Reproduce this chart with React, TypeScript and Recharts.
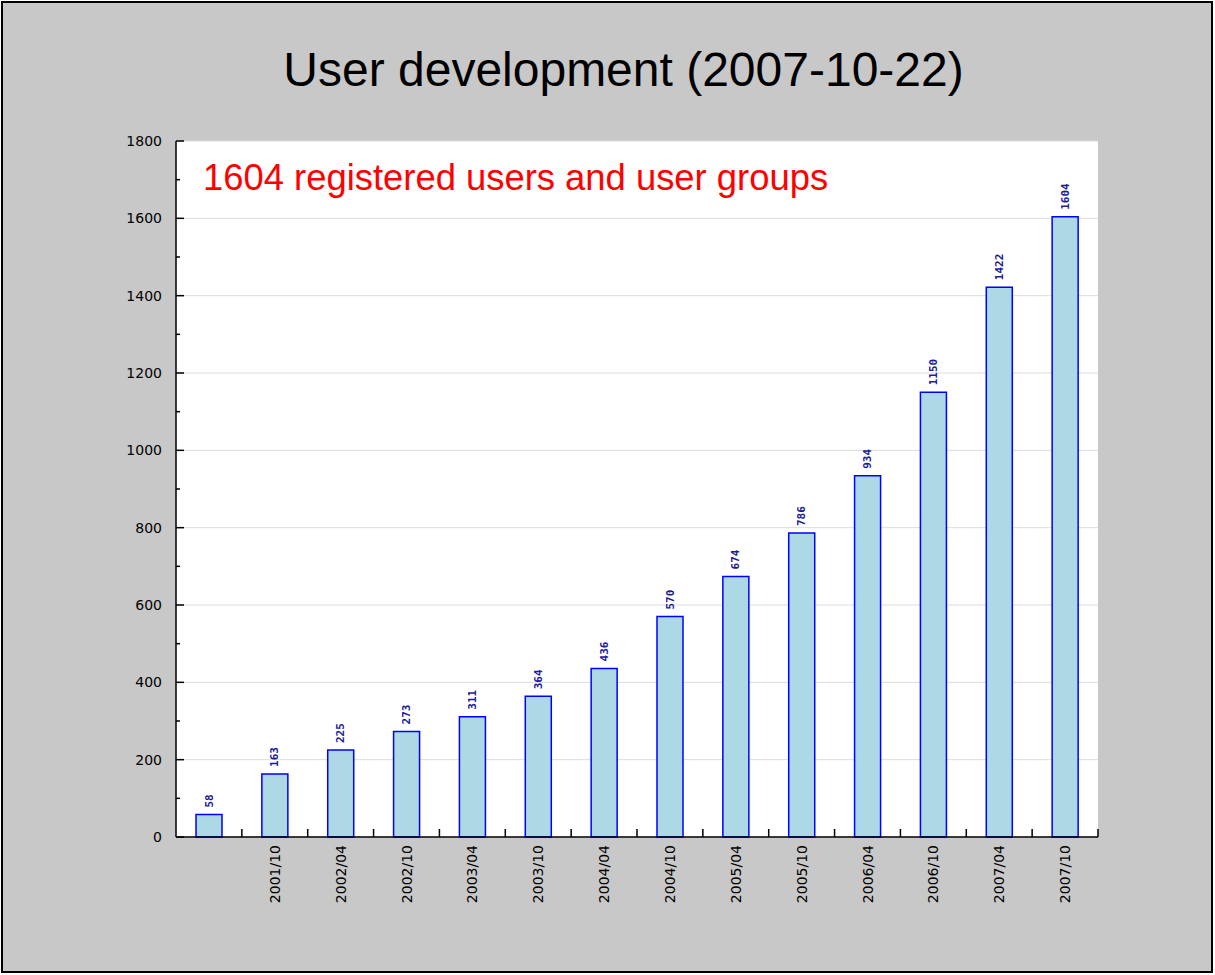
import { BarChart, Bar, XAxis, YAxis, CartesianGrid, LabelList } from 'recharts';

// half-year snapshots; the first one carries no label in the original
const periods = ['', '2001/10', '2002/04', '2002/10', '2003/04', '2003/10', '2004/04', '2004/10', '2005/04', '2005/10', '2006/04', '2006/10', '2007/04', '2007/10'];
const users = [58, 163, 225, 273, 311, 364, 436, 570, 674, 786, 934, 1150, 1422, 1604];

const yTicks = [0, 100, 200, 300, 400, 500, 600, 700, 800, 900, 1000, 1100, 1200, 1300, 1400, 1500, 1600, 1700, 1800];
const yLabels = [0, 200, 400, 600, 800, 1000, 1200, 1400, 1600, 1800];

const data = periods.map((period, i) => ({ period, users: users[i] }));

const Y_MARGIN = 14;
const X_MARGIN = 8;

const YTick = (props: any) => {
  const { x, y, payload } = props;
  const axisX = x + Y_MARGIN;
  const major = yLabels.includes(payload.value);
  return (
    <g>
      <line x1={axisX} x2={axisX + (major ? 8 : 4)} y1={y} y2={y} stroke="#000" strokeWidth={1.5} />
      {major && (
        <text x={x} y={y} textAnchor="end" dominantBaseline="central" fontSize={14} fontFamily="DejaVu Sans" fill="#000">
          {payload.value}
        </text>
      )}
    </g>
  );
};

const XTick = (props: any) => {
  const { x, y, payload, width, visibleTicksCount } = props;
  const axisY = y - X_MARGIN;
  const half = width / visibleTicksCount / 2;
  return (
    <g>
      <line x1={x + half} x2={x + half} y1={axisY} y2={axisY - 8} stroke="#000" strokeWidth={1.5} />
      <text
        transform={`translate(${x},${y}) rotate(-90)`}
        textAnchor="end"
        dominantBaseline="central"
        fontSize={14}
        fontFamily="DejaVu Sans"
        fill="#000"
      >
        {payload.value}
      </text>
    </g>
  );
};

const BarValue = (props: any) => {
  const { x, y, width, value } = props;
  return (
    <text
      transform={`translate(${x + width / 2},${y - 7}) rotate(-90)`}
      textAnchor="start"
      dominantBaseline="central"
      fontSize={11}
      fontWeight="bold"
      fontFamily="DejaVu Sans Mono"
      fill="#1c1c99"
    >
      {value}
    </text>
  );
};

export default function App() {
  return (
    <div style={{ position: 'absolute', left: 0, top: 0, width: 1215, height: 975, background: '#fff' }}>
      <div
        style={{
          position: 'absolute', left: 1, top: 1, width: 1212, height: 972, boxSizing: 'border-box',
          border: '2px solid #000', background: '#c8c8c8',
        }}
      />
      <div style={{ position: 'absolute', left: 0, top: 0 }}>
        <BarChart width={1215} height={975} data={data} margin={{ top: 141, right: 117, bottom: 58, left: 116 }}>
          <CartesianGrid vertical={false} stroke="#dddddd" fill="#ffffff" horizontalValues={yLabels} />
          <XAxis
            dataKey="period"
            height={80}
            interval={0}
            tickSize={0}
            tickMargin={X_MARGIN}
            tickLine={false}
            tick={<XTick />}
            axisLine={{ stroke: '#000', strokeWidth: 1.5 }}
          />
          <YAxis
            width={60}
            domain={[0, 1800]}
            ticks={yTicks}
            interval={0}
            tickSize={0}
            tickMargin={Y_MARGIN}
            tickLine={false}
            tick={<YTick />}
            axisLine={{ stroke: '#000', strokeWidth: 1.5 }}
          />
          <Bar dataKey="users" barSize={26} fill="#add8e6" stroke="#0000ff" strokeWidth={1.5} isAnimationActive={false}>
            <LabelList dataKey="users" content={<BarValue />} />
          </Bar>
        </BarChart>
      </div>
      <div
        style={{
          position: 'absolute', left: 0, width: 1247, top: 46, textAlign: 'center',
          fontFamily: 'Liberation Sans', fontSize: 48, lineHeight: '48px', color: '#000', whiteSpace: 'nowrap',
        }}
      >
        User development (2007-10-22)
      </div>
      <div
        style={{
          position: 'absolute', left: 203, top: 160,
          fontFamily: 'Liberation Sans', fontSize: 36.4, lineHeight: '36px', color: '#ff0000', whiteSpace: 'nowrap',
        }}
      >
        1604 registered users and user groups
      </div>
    </div>
  );
}
